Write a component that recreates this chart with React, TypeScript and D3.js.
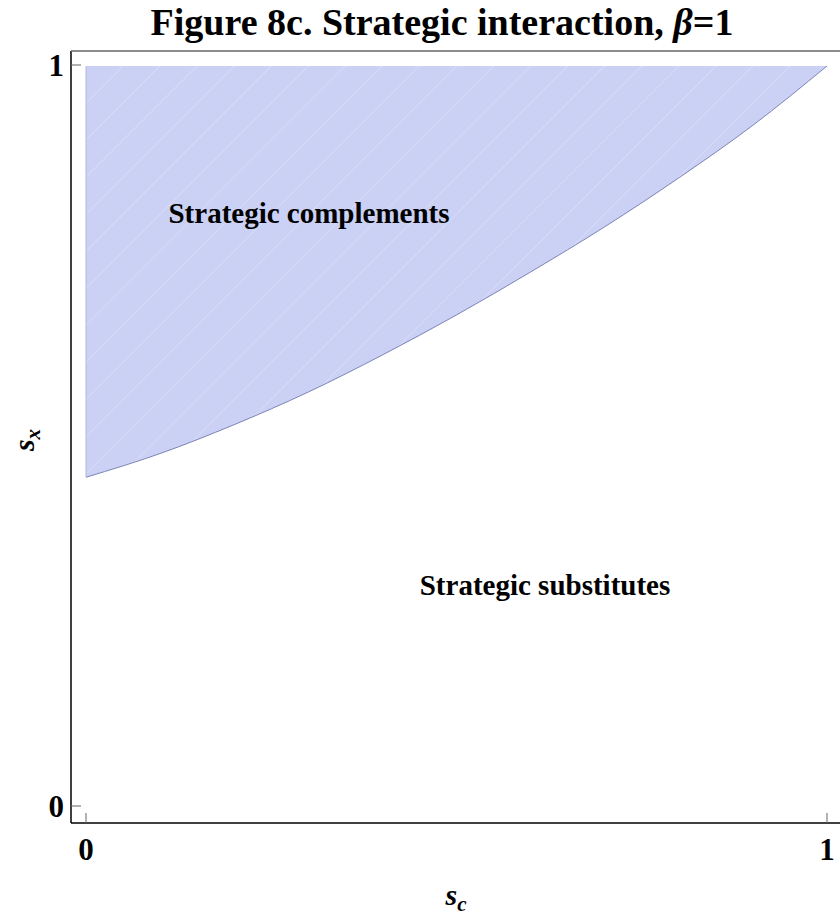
import React from "react";
import * as d3 from "d3";

const scValues = [0, 0.1, 0.2, 0.3, 0.4, 0.5, 0.6, 0.7, 0.8, 0.9, 1.0];
const sxBoundary = [0.445, 0.477, 0.516, 0.56, 0.61, 0.664, 0.722, 0.783, 0.849, 0.92, 1.0];
const xTicks = [0, 1];
const yTicks = [0, 1];
const regionLabels = ["Strategic complements", "Strategic substitutes"];

export default function App() {
  const W = 840, H = 918;
  const x = d3.scaleLinear().domain([0, 1]).range([86, 827]);
  const y = d3.scaleLinear().domain([0, 1]).range([807, 66]);
  const pts: [number, number][] = scValues.map((s, i) => [s, sxBoundary[i]]);
  const area = d3
    .area<[number, number]>()
    .x((d) => x(d[0]))
    .y0(() => y(1))
    .y1((d) => y(d[1]))
    .curve(d3.curveMonotoneX);
  const line = d3
    .line<[number, number]>()
    .x((d) => x(d[0]))
    .y((d) => y(d[1]))
    .curve(d3.curveMonotoneX);
  const font = "'Liberation Serif', 'Times New Roman', serif";
  const hatch = d3.range(-20, 21).map((k) => k * 0.05);
  return (
    <svg width={W} height={H} style={{ position: "absolute", left: 0, top: 0 }}>
      <defs>
        <clipPath id="fillclip">
          <path d={area(pts) || ""} />
        </clipPath>
      </defs>
      <rect width={W} height={H} fill="#fff" />
      <text x={442} y={35} textAnchor="middle" fontFamily={font} fontWeight="bold" fontSize={38}>
        Figure 8c. Strategic interaction, <tspan fontStyle="italic">β</tspan>=1
      </text>
      <path d={area(pts) || ""} fill="#cbd1f4" />
      <g clipPath="url(#fillclip)" stroke="#ffffff" strokeOpacity={0.3} strokeWidth={1}>
        {hatch.map((k) => (
          <line key={k} x1={x(k)} y1={y(0)} x2={x(k + 1)} y2={y(1)} />
        ))}
      </g>
      <path d={line(pts) || ""} fill="none" stroke="#7d84b5" strokeWidth={1} />
      <line x1={x(0)} x2={x(0)} y1={y(1)} y2={y(pts[0][1])} stroke="#b4b8d6" strokeWidth={1} />
      {/* frame */}
      <line x1={71} x2={71} y1={51} y2={823} stroke="#000" strokeWidth={1.5} />
      <line x1={71} x2={840} y1={823} y2={823} stroke="#000" strokeWidth={1.5} />
      <line x1={71} x2={840} y1={51} y2={51} stroke="#666" strokeWidth={1.5} />
      {yTicks.map((t) => (
        <g key={"y" + t}>
          <line x1={71} x2={81} y1={y(t) - 1} y2={y(t) - 1} stroke="#666" strokeWidth={1} />
          <text x={64} y={y(t) + 10} textAnchor="end" fontFamily={font} fontWeight="bold" fontSize={31}>
            {t}
          </text>
        </g>
      ))}
      {xTicks.map((t) => (
        <g key={"x" + t}>
          <line x1={x(t)} x2={x(t)} y1={823} y2={813} stroke="#666" strokeWidth={1} />
          <text x={x(t)} y={860} textAnchor="middle" fontFamily={font} fontWeight="bold" fontSize={31}>
            {t}
          </text>
        </g>
      ))}
      <text x={456} y={905} textAnchor="middle" fontFamily={font} fontWeight="bold" fontStyle="italic" fontSize={30}>
        s<tspan fontSize={21} dy={6}>c</tspan>
      </text>
      <text
        transform="translate(34,440) rotate(-90)"
        textAnchor="middle"
        fontFamily={font}
        fontWeight="bold"
        fontStyle="italic"
        fontSize={30}
      >
        s<tspan fontSize={21} dy={6}>x</tspan>
      </text>
      <text x={309} y={223} textAnchor="middle" fontFamily={font} fontWeight="bold" fontSize={29}>
        {regionLabels[0]}
      </text>
      <text x={545} y={595} textAnchor="middle" fontFamily={font} fontWeight="bold" fontSize={29}>
        {regionLabels[1]}
      </text>
    </svg>
  );
}
